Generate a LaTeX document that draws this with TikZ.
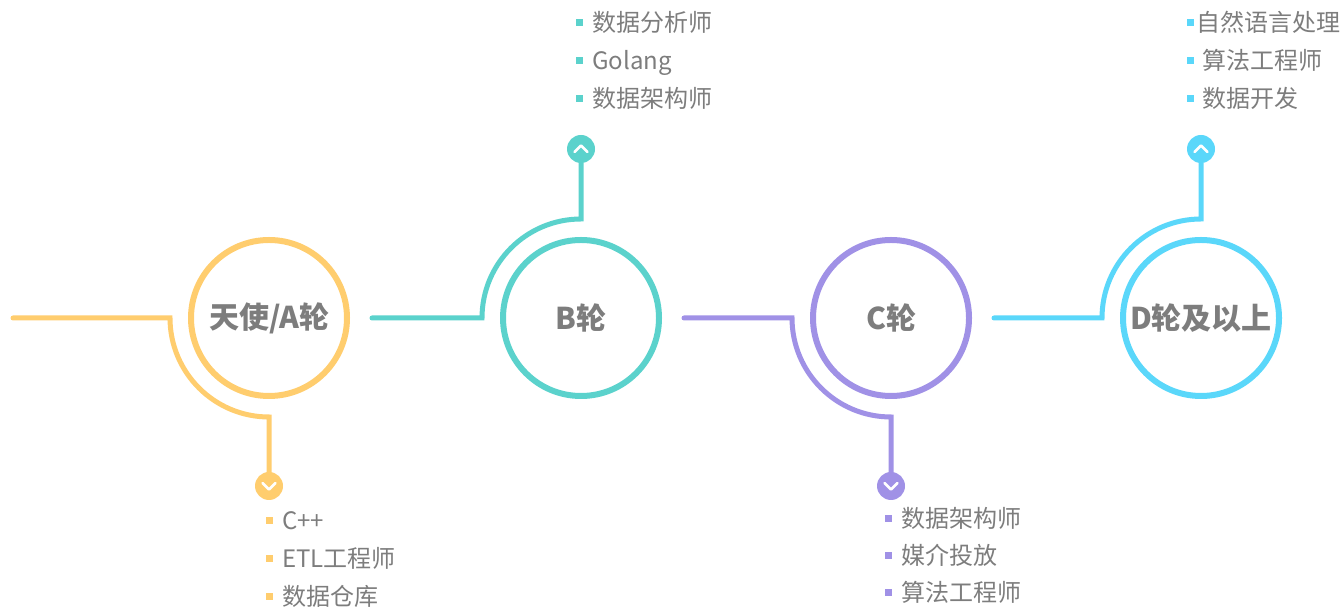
\documentclass[tikz,border=0pt]{standalone}
\usepackage{fontspec}
\setmainfont{Noto Sans CJK SC}
\usetikzlibrary{positioning}

\definecolor{ycol}{RGB}{255,205,110}
\definecolor{tcol}{RGB}{91,210,204}
\definecolor{pcol}{RGB}{160,145,230}
\definecolor{ccol}{RGB}{90,215,250}
\definecolor{txtgray}{RGB}{125,125,125}
\newcommand{\bul}[1]{\textcolor{#1}{\rule[5.5pt]{7pt}{7pt}}}

\begin{document}
\begin{tikzpicture}[
    x=1pt, y=1pt,
    node distance=22pt,
    stage/.style={circle, line width=6pt, minimum size=156pt, inner sep=0pt,
        text=txtgray, font=\bfseries\fontsize{30}{30}\selectfont},
    knob/.style={circle, minimum size=28pt, inner sep=0pt},
    conn/.style={line width=5pt, line cap=round},
    chev/.style={white, line width=2.6pt, line cap=round, line join=round},
    job/.style={anchor=base west, inner sep=0pt, text=txtgray,
        font=\fontsize{24}{24}\selectfont}
]
    \useasboundingbox (0,0) rectangle (1343,609);

    \node[stage, draw=ycol] (angel) at (269,291) {天使/A轮};
    \node[stage, draw=tcol] (roundB) at (581,291) {B轮};
    \node[stage, draw=pcol] (roundC) at (891,291) {C轮};
    \node[stage, draw=ccol] (roundD) at (1201,291) {D轮及以上};

    \node[knob, fill=ycol] (knobA) at (269,123) {};
    \node[knob, fill=tcol] (knobB) at (581,460) {};
    \node[knob, fill=pcol] (knobC) at (891,123) {};
    \node[knob, fill=ccol] (knobD) at (1201,460) {};

    \coordinate (startA) at (13,291);
    \coordinate[right=of angel] (startB);
    \coordinate[right=of roundB] (startC);
    \coordinate[right=of roundC] (startD);

    \draw[conn, ycol] (startA) -- ++(157,0) arc[start angle=180, end angle=270, radius=99] -- (knobA);
    \draw[conn, tcol] (startB) -- ++(110,0) arc[start angle=180, end angle=90, radius=99] -- (knobB);
    \draw[conn, pcol] (startC) -- ++(108,0) arc[start angle=180, end angle=270, radius=99] -- (knobC);
    \draw[conn, ccol] (startD) -- ++(108,0) arc[start angle=180, end angle=90, radius=99] -- (knobD);

    \foreach \k in {knobA, knobC}
        \draw[chev] ([shift={(-6.5,3)}]\k.center) -- ([shift={(0,-3.5)}]\k.center) -- ([shift={(6.5,3)}]\k.center);
    \foreach \k in {knobB, knobD}
        \draw[chev] ([shift={(-6.5,-3)}]\k.center) -- ([shift={(0,3.5)}]\k.center) -- ([shift={(6.5,-3)}]\k.center);

    \foreach \txt [count=\i] in {C++, ETL工程师, 数据仓库}
        \node[job] (jobA\i) at (266,117-38*\i) {\bul{ycol}\hspace{9pt}\txt};
    \foreach \txt [count=\i] in {数据分析师, Golang, 数据架构师}
        \node[job] (jobB\i) at (576,615-38*\i) {\bul{tcol}\hspace{9pt}\txt};
    \foreach \txt [count=\i] in {数据架构师, 媒介投放, 算法工程师}
        \node[job] (jobC\i) at (885,118-37*\i) {\bul{pcol}\hspace{9pt}\txt};
    \foreach \txt/\gap [count=\i] in {自然语言处理/2pt, 算法工程师/8pt, 数据开发/8pt}
        \node[job] (jobD\i) at (1187,615-38*\i) {\bul{ccol}\hspace{\gap}\txt};
\end{tikzpicture}
\end{document}
